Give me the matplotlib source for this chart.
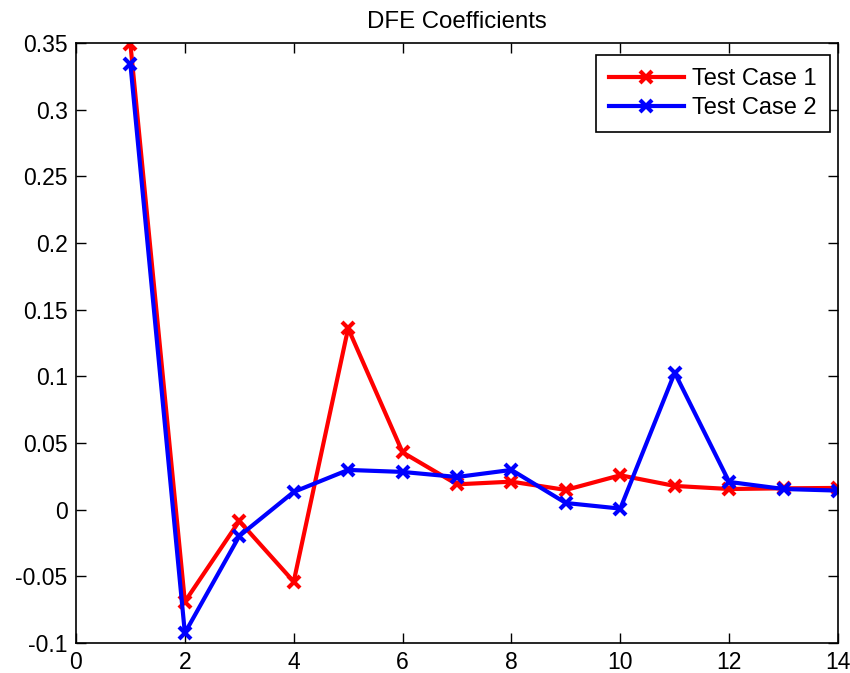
import matplotlib
matplotlib.use("Agg")
import matplotlib.pyplot as plt

plt.rcParams['font.family'] = ['Liberation Sans', 'DejaVu Sans']

taps = [1, 2, 3, 4, 5, 6, 7, 8, 9, 10, 11, 12, 13, 14]
case1 = [0.349, -0.069, -0.0085, -0.054, 0.136, 0.043, 0.019, 0.021, 0.0148, 0.0258,
         0.0178, 0.0155, 0.016, 0.0163]
case2 = [0.334, -0.0925, -0.0198, 0.0133, 0.0298, 0.0283, 0.0245, 0.0298, 0.005, 0.0008,
         0.1027, 0.0208, 0.0155, 0.0143]
labels = ['Test Case 1', 'Test Case 2']
title = 'DFE Coefficients'
xticks = [0, 2, 4, 6, 8, 10, 12, 14]
yticks = [-0.1, -0.05, 0, 0.05, 0.1, 0.15, 0.2, 0.25, 0.3, 0.35]
yticklabels = ['-0.1', '-0.05', '0', '0.05', '0.1', '0.15', '0.2', '0.25', '0.3', '0.35']

fig = plt.figure(figsize=(8.5, 6.73), dpi=100)
ax = fig.add_axes([76/850, 30/673, (838-76)/850, (643-43)/673])

ax.plot(taps, case1, color='#ff0000', lw=3, marker='x', ms=8, mew=3, label=labels[0])
ax.plot(taps, case2, color='#0000ff', lw=3, marker='x', ms=8, mew=3, label=labels[1])

ax.set_xlim(0, 14)
ax.set_ylim(-0.1, 0.35)
ax.set_xticks(xticks)
ax.set_xticklabels([str(t) for t in xticks])
ax.set_yticks(yticks)
ax.set_yticklabels(yticklabels)
ax.tick_params(direction='in', length=7, width=1, top=True, right=True,
               labelsize=16.5, pad=6)
for s in ax.spines.values():
    s.set_linewidth(1.2)
ax.set_title(title, fontsize=17.3, pad=11)

leg = ax.legend(loc='upper right', bbox_to_anchor=(0.9895, 0.98), fontsize=17,
                frameon=True, fancybox=False, edgecolor='black', framealpha=1,
                handlelength=3.2, handletextpad=0.35, borderaxespad=0,
                labelspacing=0.3, borderpad=0.55)
leg.get_frame().set_linewidth(1.2)

fig.savefig('out.png', dpi=100)
